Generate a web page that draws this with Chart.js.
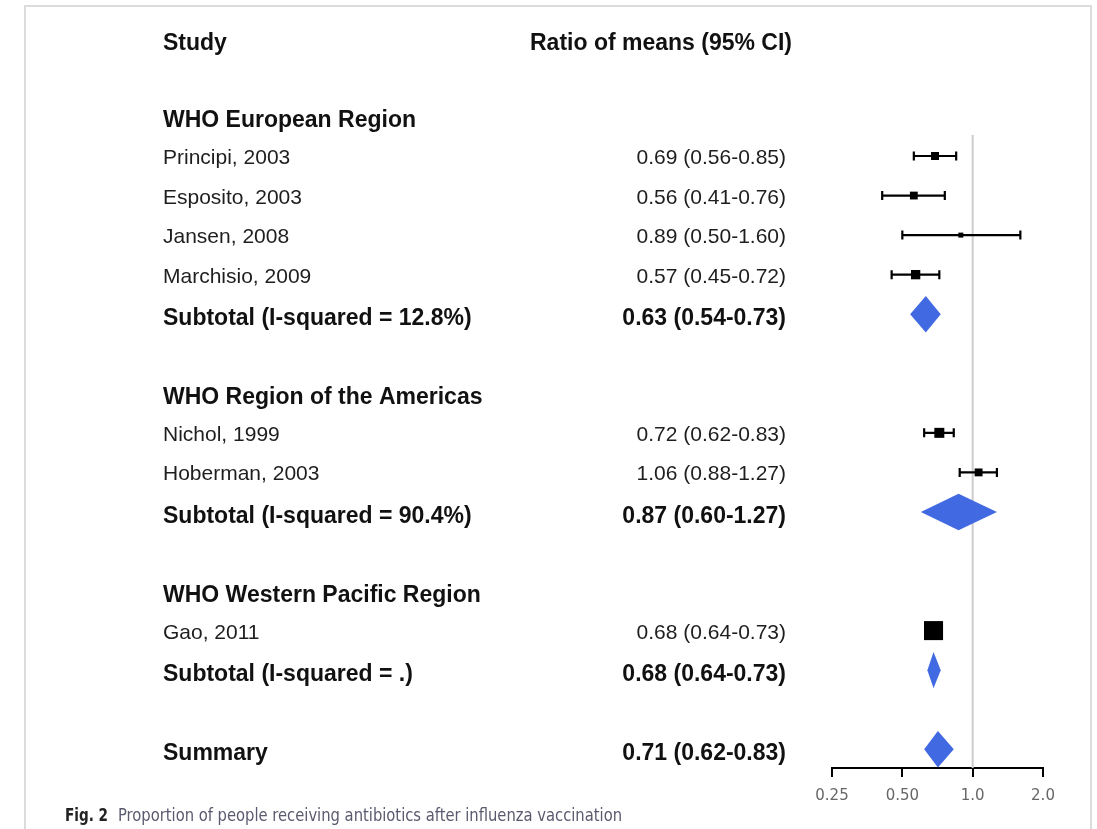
<!DOCTYPE html>
<html>
<head>
<meta charset="utf-8">
<script src="https://cdn.jsdelivr.net/npm/chart.js@4.4.1/dist/chart.umd.min.js"></script>
<style>
  html, body { margin: 0; padding: 0; background: #ffffff; }
  #wrap { position: relative; width: 1097px; height: 829px; }
  canvas { display: block; }
</style>
</head>
<body>
<div id="wrap"><canvas id="c" width="1097" height="829"></canvas></div>
<script>
// ---------------- DATA ----------------
const groupNames = ["WHO European Region", "WHO Region of the Americas", "WHO Western Pacific Region"];
const studyNames = ["Principi, 2003", "Esposito, 2003", "Jansen, 2008", "Marchisio, 2009", "Nichol, 1999", "Hoberman, 2003", "Gao, 2011"];
const studyGroup = [0, 0, 0, 0, 1, 1, 2];
const studyRatio = [0.69, 0.56, 0.89, 0.57, 0.72, 1.06, 0.68];
const studyLow   = [0.56, 0.41, 0.50, 0.45, 0.62, 0.88, 0.64];
const studyHigh  = [0.85, 0.76, 1.60, 0.72, 0.83, 1.27, 0.73];
const studyWeight = [8.4, 8.1, 3.3, 11.5, 13.2, 8.2, 47.9];   // % weight (box area)
const subtotalI2    = ["12.8%", "90.4%", "."];
const subtotalRatio = [0.63, 0.87, 0.68];
const subtotalLow   = [0.54, 0.60, 0.64];
const subtotalHigh  = [0.73, 1.27, 0.73];
const summaryRatio = [0.71];
const summaryLow   = [0.62];
const summaryHigh  = [0.83];
const xTickValues = [0.25, 0.5, 1, 2];
const xTickLabels = ["0.25", "0.50", "1.0", "2.0"];
const columnHeaders = ["Study", "Ratio of means (95% CI)"];
const captionLabel = "Fig. 2";
const captionText = "Proportion of people receiving antibiotics after influenza vaccination";

// ---------------- ROW LAYOUT ----------------
const studyRow = [];
const headerRow = [];
const subtotalRow = [];
let r = 0;
groupNames.forEach((g, gi) => {
  headerRow[gi] = r++;
  studyNames.forEach((s, i) => { if (studyGroup[i] === gi) studyRow[i] = r++; });
  subtotalRow[gi] = r++;
  r++; // blank
});
const summaryRow = r;

function fmt(v, lo, hi) {
  return v.toFixed(2) + " (" + lo.toFixed(2) + "-" + hi.toFixed(2) + ")";
}

const BOLD = "bold 23px 'Liberation Sans', Arial, sans-serif";
const REG = "21px 'Liberation Sans', Arial, sans-serif";
const TEXT_X = 163, NUM_RIGHT = 786, HDR2_X = 530;

const forestPlugin = {
  id: 'forest',
  beforeDraw(chart) {
    const ctx = chart.ctx;
    ctx.save();
    ctx.fillStyle = '#ffffff';
    ctx.fillRect(0, 0, chart.width, chart.height);
    ctx.strokeStyle = '#dcdcdc';
    ctx.lineWidth = 2;
    ctx.beginPath();
    ctx.moveTo(25, 829);
    ctx.lineTo(25, 6);
    ctx.lineTo(1091, 6);
    ctx.lineTo(1091, 829);
    ctx.stroke();
    ctx.restore();
  },
  beforeDatasetsDraw(chart) {
    const ctx = chart.ctx, xs = chart.scales.x, ys = chart.scales.y, ca = chart.chartArea;
    ctx.save();
    // reference line at 1
    ctx.strokeStyle = '#cccccc';
    ctx.lineWidth = 2;
    const x1 = xs.getPixelForValue(1);
    ctx.beginPath();
    ctx.moveTo(x1, ca.top);
    ctx.lineTo(x1, ca.bottom);
    ctx.stroke();
    // whiskers
    ctx.strokeStyle = '#000000';
    ctx.lineWidth = 2.2;
    studyNames.forEach((s, i) => {
      const y = ys.getPixelForValue(studyRow[i]);
      const a = xs.getPixelForValue(studyLow[i]);
      const b = xs.getPixelForValue(studyHigh[i]);
      ctx.beginPath();
      ctx.moveTo(a, y); ctx.lineTo(b, y);
      ctx.moveTo(a, y - 4.5); ctx.lineTo(a, y + 4.5);
      ctx.moveTo(b, y - 4.5); ctx.lineTo(b, y + 4.5);
      ctx.stroke();
    });
    // diamonds
    ctx.fillStyle = '#4169e1';
    const diamond = (row, v, lo, hi) => {
      const y = ys.getPixelForValue(row);
      const yt = ys.getPixelForValue(row - 0.46);
      const yb = ys.getPixelForValue(row + 0.46);
      ctx.beginPath();
      ctx.moveTo(xs.getPixelForValue(lo), y);
      ctx.lineTo(xs.getPixelForValue(v), yt);
      ctx.lineTo(xs.getPixelForValue(hi), y);
      ctx.lineTo(xs.getPixelForValue(v), yb);
      ctx.closePath();
      ctx.fill();
    };
    groupNames.forEach((g, gi) => diamond(subtotalRow[gi], subtotalRatio[gi], subtotalLow[gi], subtotalHigh[gi]));
    diamond(summaryRow, summaryRatio[0], summaryLow[0], summaryHigh[0]);
    ctx.restore();
  },
  afterDraw(chart) {
    const ctx = chart.ctx, ys = chart.scales.y;
    ctx.save();
    ctx.textBaseline = 'alphabetic';
    const bold = (t, x, row, align) => {
      ctx.font = BOLD; ctx.fillStyle = '#111111'; ctx.textAlign = align || 'left';
      ctx.fillText(t, x, ys.getPixelForValue(row) + 11);
    };
    const reg = (t, x, row, align) => {
      ctx.font = REG; ctx.fillStyle = '#1e1e1e'; ctx.textAlign = align || 'left';
      ctx.fillText(t, x, ys.getPixelForValue(row) + 8);
    };
    bold(columnHeaders[0], TEXT_X, -1.95);
    bold(columnHeaders[1], HDR2_X, -1.95);
    groupNames.forEach((g, gi) => {
      bold(g, TEXT_X, headerRow[gi]);
      bold("Subtotal (I-squared = " + subtotalI2[gi] + ")", TEXT_X, subtotalRow[gi]);
      bold(fmt(subtotalRatio[gi], subtotalLow[gi], subtotalHigh[gi]), NUM_RIGHT, subtotalRow[gi], 'right');
    });
    studyNames.forEach((s, i) => {
      reg(s, TEXT_X, studyRow[i]);
      reg(fmt(studyRatio[i], studyLow[i], studyHigh[i]), NUM_RIGHT, studyRow[i], 'right');
    });
    bold("Summary", TEXT_X, summaryRow);
    bold(fmt(summaryRatio[0], summaryLow[0], summaryHigh[0]), NUM_RIGHT, summaryRow, 'right');
    // caption
    ctx.textAlign = 'left';
    ctx.font = "bold 17px 'Liberation Sans Narrow', 'DejaVu Sans Condensed', sans-serif";
    ctx.fillStyle = '#222222';
    let w = ctx.measureText(captionLabel).width;
    ctx.save();
    ctx.translate(65, 821); ctx.scale(43 / w, 1);
    ctx.fillText(captionLabel, 0, 0);
    ctx.restore();
    ctx.font = "17px 'Liberation Sans Narrow', 'DejaVu Sans Condensed', sans-serif";
    ctx.fillStyle = '#5a5a6e';
    w = ctx.measureText(captionText).width;
    ctx.save();
    ctx.translate(118, 821); ctx.scale(504 / w, 1);
    ctx.fillText(captionText, 0, 0);
    ctx.restore();
    ctx.restore();
  }
};

new Chart(document.getElementById('c'), {
  type: 'scatter',
  data: {
    datasets: [{
      data: studyNames.map((s, i) => ({ x: studyRatio[i], y: studyRow[i] })),
      pointStyle: 'rect',
      pointRadius: studyWeight.map(w => 2.75 * Math.sqrt(w) / Math.SQRT2),
      pointHoverRadius: studyWeight.map(w => 2.75 * Math.sqrt(w) / Math.SQRT2),
      backgroundColor: '#000000',
      borderWidth: 0,
      clip: false
    }]
  },
  options: {
    responsive: false,
    animation: false,
    events: [],
    layout: { padding: { left: 832, right: 54, top: 135, bottom: 0 } },
    plugins: { legend: { display: false }, tooltip: { enabled: false } },
    scales: {
      x: {
        type: 'logarithmic',
        min: 0.25,
        max: 2,
        afterBuildTicks: (scale) => { scale.ticks = xTickValues.map(v => ({ value: v })); },
        afterFit: (scale) => { scale.height = 61; },
        ticks: {
          autoSkip: false, maxRotation: 0, padding: 10,
          color: '#666666',
          font: { family: "'DejaVu Sans', Verdana, sans-serif", size: 15 },
          callback: (v, i) => xTickLabels[i]
        },
        grid: { display: true, drawOnChartArea: false, drawTicks: true, tickLength: 9, color: '#000000', lineWidth: 2 },
        border: { display: true, color: '#000000', width: 2 }
      },
      y: {
        type: 'linear',
        reverse: true,
        min: 0.469,
        max: 16.474,
        display: false
      }
    }
  },
  plugins: [forestPlugin]
});
</script>
</body>
</html>
